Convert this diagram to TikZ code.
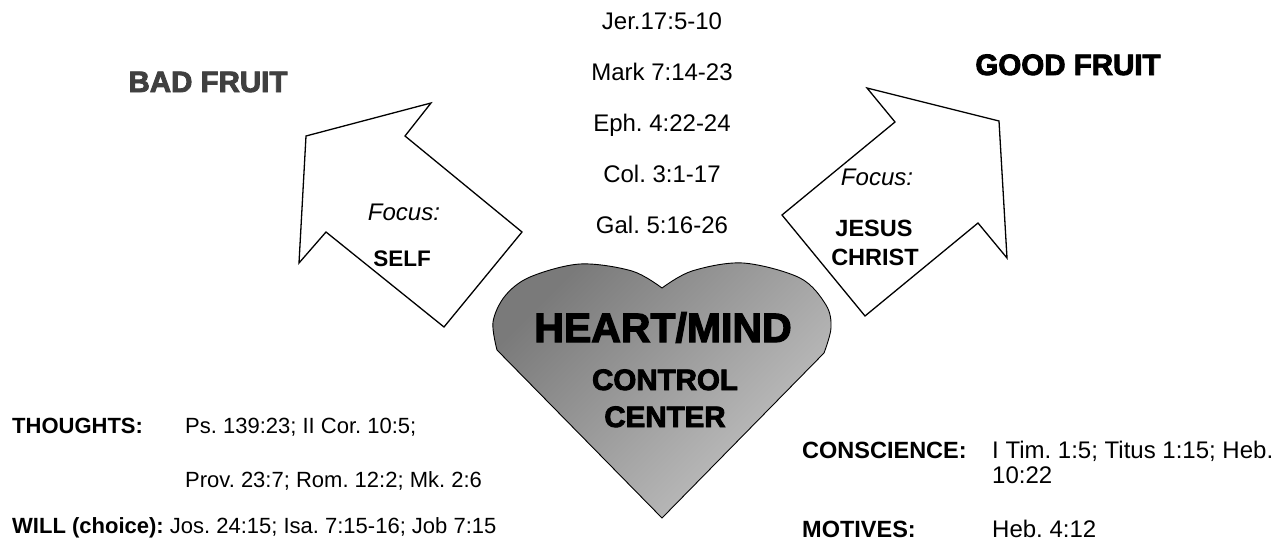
\documentclass[tikz,border=0pt]{standalone}
\usepackage{fontspec}
\setmainfont{Liberation Sans}
\newfontfamily\heavyfont{Liberation Sans}[FakeBold=3]
\definecolor{badgray}{RGB}{64,64,64}
\definecolor{heartdark}{RGB}{122,122,122}
\definecolor{heartlight}{RGB}{196,196,196}
\frenchspacing
\begin{document}
\frenchspacing
\begin{tikzpicture}[x=1pt,y=-1pt,
  txt/.style={inner sep=0pt, font=\fontsize{22}{26}\selectfont},
  txtl/.style={txt, anchor=base west},
  txtc/.style={inner sep=0pt, anchor=base, font=\fontsize{24}{28}\selectfont},
  txtr/.style={inner sep=0pt, anchor=base west, font=\fontsize{24}{28}\selectfont},
  bold/.style={txt, font=\fontsize{22}{26}\selectfont\bfseries},
  heavy/.style={inner sep=0pt, anchor=base},
  arrowshape/.style={draw=black, fill=white, line width=1.3pt, line join=miter}]
\useasboundingbox (0,0) rectangle (1283,541);

% arrows
\draw[arrowshape] (306,136) -- (431,103) -- (405,136) -- (522,232) -- (444,327) -- (326,232) -- (299,263) -- cycle;
\draw[arrowshape] (867,88) -- (999,121) -- (1007,258) -- (978,223) -- (865,316) -- (782,215) -- (895,122) -- cycle;

% heart
\shadedraw[draw=black, line width=0.9pt, left color=heartdark, right color=heartlight, shading angle=45]
  (662,518) -- (497,350)
  -- plot[smooth, tension=0.55] coordinates {(497,350) (493,322) (505,296) (530,277) (580,264) (632,271) (662,288)}
  -- plot[smooth, tension=0.55] coordinates {(662,288) (692,271) (743,263) (800,278) (826,305) (831,328) (824,353)}
  -- cycle;

% titles
\node[heavy, text=badgray, font=\fontsize{29.5}{33}\heavyfont\bfseries] (bad) at (208,92) {BAD FRUIT};
\node[heavy, font=\fontsize{29.5}{33}\heavyfont\bfseries] (good) at (1068,75) {GOOD FRUIT};

% center references
\node[txtc] (r1) at (662,29.5) {Jer.17:5-10};
\node[txtc] (r2) at (662,80.5) {Mark 7:14-23};
\node[txtc] (r3) at (662,131.5) {Eph. 4:22-24};
\node[txtc] (r4) at (662,182.5) {Col. 3:1-17};
\node[txtc] (r5) at (662,233.5) {Gal. 5:16-26};

% arrow labels
\node[txtc, font=\fontsize{24}{28}\selectfont\itshape] (f1) at (404,220) {Focus:};
\node[inner sep=0pt, anchor=base, font=\fontsize{22.5}{26}\selectfont\bfseries] (self) at (402,266) {SELF};
\node[txtc, font=\fontsize{24}{28}\selectfont\itshape] (f2) at (877,185) {Focus:};
\node[inner sep=0pt, anchor=base, font=\fontsize{23.5}{27}\selectfont\bfseries] (jesus) at (874,236) {JESUS};
\node[inner sep=0pt, anchor=base, font=\fontsize{23.5}{27}\selectfont\bfseries] (christ) at (875,265) {CHRIST};

% heart text
\node[heavy, font=\fontsize{41}{46}\heavyfont\bfseries] (hm) at (663,342) {HEART/MIND};
\node[heavy, font=\fontsize{29.5}{33}\heavyfont\bfseries] (cc1) at (665,390) {CONTROL};
\node[heavy, font=\fontsize{29.5}{33}\heavyfont\bfseries] (cc2) at (665,427) {CENTER};

% bottom left
\node[bold, anchor=base west] (th) at (12,433) {THOUGHTS:};
\node[txtl] (th1) at (185,433) {Ps. 139:23; II Cor. 10:5;};
\node[txtl] (th2) at (185,487) {Prov. 23:7; Rom. 12:2; Mk. 2:6};
\node[txtl] (will) at (12,533) {\textbf{WILL (choice):} Jos. 24:15; Isa. 7:15-16; Job 7:15};

% bottom right
\node[inner sep=0pt, anchor=base west, font=\fontsize{23.5}{27}\selectfont\bfseries] (con) at (802,458) {CONSCIENCE:};
\node[txtr] (con1) at (992,458) {I Tim. 1:5; Titus 1:15; Heb.};
\node[txtr] (con2) at (992,483) {10:22};
\node[inner sep=0pt, anchor=base west, font=\fontsize{23.5}{27}\selectfont\bfseries] (mot) at (802,537) {MOTIVES:};
\node[txtr] (mot1) at (992,537) {Heb. 4:12};
\end{tikzpicture}
\end{document}
